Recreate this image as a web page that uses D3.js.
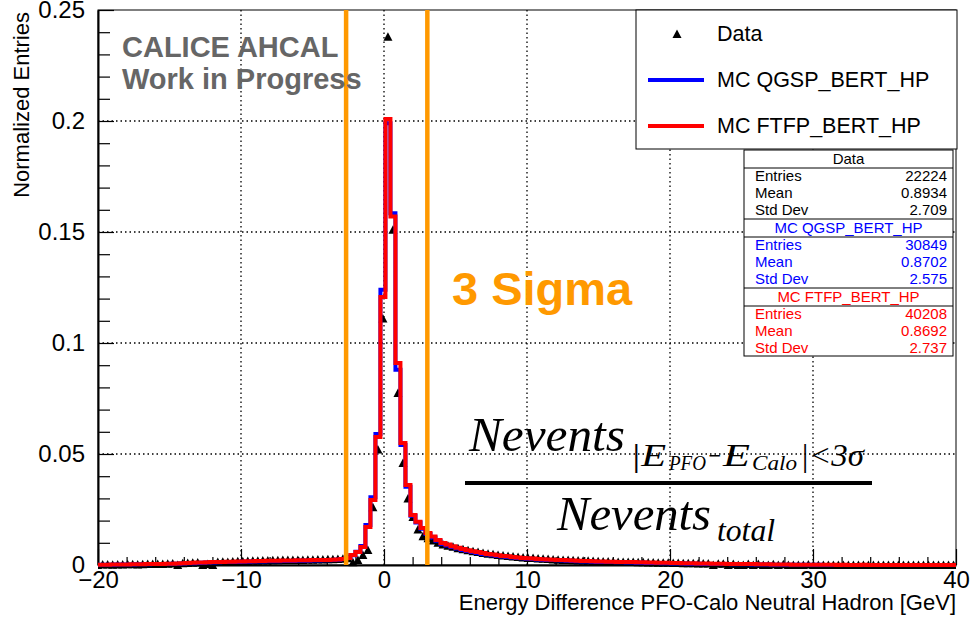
<!DOCTYPE html>
<html>
<head>
<meta charset="utf-8">
<script src="https://cdn.jsdelivr.net/npm/d3@7"></script>
<style>
body { margin: 0; background: #fff; }
svg text { font-family: "Liberation Sans", Arial, Helvetica, sans-serif; }
svg text.latex { font-family: "Liberation Serif", "Times New Roman", serif; font-style: italic; }
</style>
</head>
<body>
<svg id="chart" width="974" height="617"></svg>
<script>
// histogram binning (0.35 GeV bins), first bin edge shown on the axis
var firstEdge = -20.2
var binWidth = 0.35

// normalized entries per bin, left to right
var dataVals = [
  0, 0.0002, 0.0002, 0.0001, 0.0002, 0.0002, 0.0003, 0.0003, 0.0002, 0.0003,
  0.0004, 0.0004, 0.0005, 0.0005, 0.0006, 0.0007, 0, 0.0008, 0.0009, 0.0010,
  0.0011, 0, 0.0004, 0, 0.0014, 0.0015, 0.0014, 0.0016, 0.0017, 0.0017,
  0.0018, 0.0019, 0.0019, 0.0020, 0.0020, 0.0021, 0.0021, 0.0022, 0.0022, 0.0022,
  0.0023, 0.0023, 0.0024, 0.0024, 0.0025, 0.0025, 0.0026, 0.0026, 0.0027, 0.0028,
  0.0030, 0.0012, 0.0022, 0.0045, 0.0068, 0.0260, 0.0520, 0.1110, 0.2380, 0.1510,
  0.0775, 0.0460, 0.0300, 0.0216, 0.0160, 0.0130, 0.0120, 0.0110, 0.0100, 0.0092,
  0.0087, 0.0082, 0.0076, 0.0071, 0.0066, 0.0062, 0.0058, 0.0054, 0.0051, 0.0048,
  0.0045, 0.0043, 0.0040, 0.0038, 0.0036, 0.0034, 0.0032, 0.0031, 0.0029, 0.0028,
  0.0027, 0.0025, 0.0024, 0.0023, 0.0022, 0.0021, 0.0020, 0.0019, 0.0019, 0.0018,
  0.0017, 0.0016, 0.0016, 0.0015, 0.0014, 0.0014, 0.0013, 0.0013, 0.0012, 0.0012,
  0.0011, 0.0011, 0.0010, 0.0010, 0.0010, 0.0009, 0.0009, 0.0008, 0.0008, 0.0008,
  0.0007, 0.0007, 0.0007, 0, 0.0006, 0.0006, 0, 0.0005, 0, 0,
  0.0005, 0, 0.0004, 0, 0, 0.0003, 0, 0.0003, 0, 0,
  0, 0, 0.0002, 0, 0, 0, 0, 0, 0, 0,
  0, 0, 0, 0, 0, 0, 0, 0, 0, 0,
  0, 0, 0, 0, 0, 0, 0, 0, 0, 0,
  0, 0
]

var qgspVals = [
  0.0001, 0.0001, 0.0001, 0.0001, 0.0002, 0.0002, 0.0002, 0.0002, 0.0003, 0.0003,
  0.0003, 0.0004, 0.0004, 0.0005, 0.0005, 0.0006, 0.0006, 0.0007, 0.0008, 0.0008,
  0.0009, 0.0010, 0.0011, 0.0011, 0.0012, 0.0013, 0.0013, 0.0014, 0.0014, 0.0015,
  0.0015, 0.0016, 0.0016, 0.0016, 0.0017, 0.0017, 0.0017, 0.0018, 0.0018, 0.0018,
  0.0019, 0.0019, 0.0019, 0.0020, 0.0020, 0.0021, 0.0021, 0.0022, 0.0024, 0.0027,
  0.0031, 0.0044, 0.0060, 0.0086, 0.0180, 0.0305, 0.0590, 0.1240, 0.1990, 0.1585,
  0.0880, 0.0540, 0.0352, 0.0222, 0.0192, 0.0163, 0.0140, 0.0124, 0.0109, 0.0095,
  0.0088, 0.0081, 0.0074, 0.0068, 0.0063, 0.0058, 0.0054, 0.0050, 0.0047, 0.0044,
  0.0041, 0.0038, 0.0036, 0.0034, 0.0032, 0.0030, 0.0028, 0.0027, 0.0025, 0.0024,
  0.0023, 0.0022, 0.0021, 0.0020, 0.0019, 0.0018, 0.0017, 0.0016, 0.0016, 0.0015,
  0.0014, 0.0014, 0.0013, 0.0013, 0.0012, 0.0012, 0.0011, 0.0011, 0.0010, 0.0010,
  0.0009, 0.0009, 0.0009, 0.0008, 0.0008, 0.0007, 0.0007, 0.0007, 0.0006, 0.0006,
  0.0006, 0.0005, 0.0005, 0.0005, 0.0004, 0.0004, 0.0004, 0.0003, 0.0003, 0.0003,
  0.0003, 0.0002, 0.0002, 0.0002, 0.0002, 0.0001, 0.0001, 0.0001, 0.0001, 0.0001,
  0.0001, 0.0001, 0.0001, 0, 0.0001, 0, 0, 0, 0, 0,
  0, 0, 0, 0, 0, 0, 0, 0, 0, 0,
  0, 0, 0, 0, 0, 0, 0, 0, 0, 0,
  0, 0
]

var ftfpVals = [
  0.0001, 0.0001, 0.0001, 0.0002, 0.0002, 0.0002, 0.0002, 0.0003, 0.0003, 0.0003,
  0.0004, 0.0004, 0.0005, 0.0005, 0.0006, 0.0006, 0.0007, 0.0008, 0.0009, 0.0010,
  0.0011, 0.0011, 0.0012, 0.0013, 0.0013, 0.0014, 0.0015, 0.0015, 0.0016, 0.0016,
  0.0017, 0.0017, 0.0018, 0.0018, 0.0019, 0.0019, 0.0019, 0.0020, 0.0020, 0.0020,
  0.0021, 0.0021, 0.0021, 0.0022, 0.0022, 0.0023, 0.0023, 0.0024, 0.0025, 0.0027,
  0.0032, 0.0045, 0.0059, 0.0081, 0.0171, 0.0293, 0.0577, 0.1207, 0.2009, 0.1570,
  0.0910, 0.0550, 0.0360, 0.0225, 0.0195, 0.0167, 0.0144, 0.0128, 0.0113, 0.0099,
  0.0092, 0.0085, 0.0078, 0.0072, 0.0067, 0.0062, 0.0058, 0.0054, 0.0050, 0.0047,
  0.0044, 0.0041, 0.0039, 0.0036, 0.0034, 0.0032, 0.0030, 0.0029, 0.0027, 0.0026,
  0.0025, 0.0024, 0.0023, 0.0022, 0.0021, 0.0020, 0.0019, 0.0018, 0.0018, 0.0017,
  0.0016, 0.0016, 0.0015, 0.0015, 0.0014, 0.0014, 0.0013, 0.0013, 0.0012, 0.0012,
  0.0011, 0.0011, 0.0010, 0.0010, 0.0010, 0.0009, 0.0009, 0.0008, 0.0008, 0.0008,
  0.0007, 0.0007, 0.0007, 0.0006, 0.0006, 0.0006, 0.0005, 0.0005, 0.0005, 0.0004,
  0.0004, 0.0004, 0.0003, 0.0003, 0.0003, 0.0002, 0.0002, 0.0002, 0.0002, 0.0001,
  0.0001, 0.0001, 0.0001, 0.0001, 0.0001, 0.0001, 0.0001, 0.0001, 0, 0.0001,
  0, 0, 0, 0.0001, 0, 0, 0, 0, 0, 0,
  0, 0, 0, 0, 0, 0, 0, 0, 0, 0,
  0, 0
]

var xTicks = [-20, -10, 0, 10, 20, 30, 40]
var xTickLabels = ["\u221220", "\u221210", "0", "10", "20", "30", "40"]
var xMinorTicks = [-18, -16, -14, -12, -8, -6, -4, -2, 2, 4, 6, 8, 12, 14, 16, 18, 22, 24, 26, 28, 32, 34, 36, 38]
var yTicks = [0, 0.05, 0.1, 0.15, 0.2, 0.25]
var yTickLabels = ["0", "0.05", "0.1", "0.15", "0.2", "0.25"]
var yMinorTicks = [0.01, 0.02, 0.03, 0.04, 0.06, 0.07, 0.08, 0.09, 0.11, 0.12, 0.13, 0.14, 0.16, 0.17, 0.18, 0.19, 0.21, 0.22, 0.23, 0.24]

// the +-3 sigma window around the peak
var sigmaCuts = [-2.65, 3.03]

var seriesNames = ["Data", "MC QGSP_BERT_HP", "MC FTFP_BERT_HP"]
var seriesColors = ["#000000", "#0000ff", "#ff0000"]
var statLabels = ["Entries", "Mean", "Std Dev"]
var statEntries = ["22224", "30849", "40208"]
var statMeans = ["0.8934", "0.8702", "0.8692"]
var statStdDevs = ["2.709", "2.575", "2.737"]

var W = 974, H = 617
var frame = { left: 98, right: 956, top: 10, bottom: 565 }

var svg = d3.select("#chart")

var x = d3.scaleLinear().domain([-20, 40]).range([frame.left, frame.right])
var y = d3.scaleLinear().domain([0, 0.25]).range([frame.bottom, frame.top])

function binLow(i) { return firstEdge + i * binWidth }

svg.append("defs").append("clipPath").attr("id", "plotClip")
  .append("rect")
  .attr("x", frame.left).attr("y", 0)
  .attr("width", frame.right - frame.left).attr("height", H)

// dotted grid
var grid = svg.append("g").attr("stroke", "#000").attr("stroke-width", 1.3)
  .attr("stroke-dasharray", "1.5,3")
grid.selectAll("line.gx").data([-10, 0, 10, 20, 30]).enter().append("line")
  .attr("x1", function (d) { return x(d) }).attr("x2", function (d) { return x(d) })
  .attr("y1", frame.top).attr("y2", frame.bottom)
grid.selectAll("line.gy").data([0.05, 0.1, 0.15, 0.2]).enter().append("line")
  .attr("x1", frame.left).attr("x2", frame.right)
  .attr("y1", function (d) { return y(d) }).attr("y2", function (d) { return y(d) })

// frame
svg.append("rect")
  .attr("x", frame.left).attr("y", frame.top)
  .attr("width", frame.right - frame.left).attr("height", frame.bottom - frame.top)
  .attr("fill", "none").attr("stroke", "#000").attr("stroke-width", 1)

// axes (ROOT style, ticks pointing inwards)
svg.append("g").attr("transform", "translate(0," + frame.bottom + ")")
  .call(d3.axisBottom(x).tickValues(xTicks).tickSize(-16).tickSizeOuter(0).tickPadding(6)
    .tickFormat(function (d, i) { return xTickLabels[i] }))
svg.append("g").attr("transform", "translate(0," + frame.bottom + ")")
  .call(d3.axisBottom(x).tickValues(xMinorTicks).tickSize(-8).tickSizeOuter(0).tickFormat(""))
  .select(".domain").remove()
svg.append("g").attr("transform", "translate(" + frame.left + ",0)")
  .call(d3.axisLeft(y).tickValues(yTicks).tickSize(-16).tickSizeOuter(0).tickPadding(13)
    .tickFormat(function (d, i) { return yTickLabels[i] }))
svg.append("g").attr("transform", "translate(" + frame.left + ",0)")
  .call(d3.axisLeft(y).tickValues(yMinorTicks).tickSize(-12).tickSizeOuter(0).tickFormat(""))
  .select(".domain").remove()
svg.selectAll(".domain").attr("stroke-width", 2)
svg.selectAll(".tick line").attr("stroke-width", 1.2)
svg.selectAll(".tick text").attr("font-size", 24).attr("fill", "#000")
  .attr("font-family", null)

// axis titles
svg.append("text").attr("x", frame.right).attr("y", 610).attr("text-anchor", "end")
  .attr("font-size", 22).text("Energy Difference PFO-Calo Neutral Hadron [GeV]")
svg.append("text").attr("transform", "translate(29,12) rotate(-90)").attr("text-anchor", "end")
  .attr("font-size", 22).text("Normalized Entries")

// histograms
var plot = svg.append("g").attr("clip-path", "url(#plotClip)")

function trianglePath(cx, cy) {
  return "M" + (cx - 4.5) + "," + (cy + 4) + "L" + (cx + 4.5) + "," + (cy + 4) + "L" + cx + "," + (cy - 4.5) + "Z"
}

plot.selectAll("path.data").data(dataVals).enter().append("path")
  .attr("class", "data")
  .attr("d", function (d, i) { return trianglePath(x(binLow(i) + binWidth / 2), y(d)) })
  .attr("fill", "#000")

function stepPath(vals) {
  var pts = []
  vals.forEach(function (v, i) {
    pts.push([binLow(i), v])
    pts.push([binLow(i) + binWidth, v])
  })
  return d3.line().x(function (p) { return x(p[0]) }).y(function (p) { return y(p[1]) })(pts)
}

plot.append("path").attr("d", stepPath(qgspVals))
  .attr("fill", "none").attr("stroke", seriesColors[1]).attr("stroke-width", 4)
plot.append("path").attr("d", stepPath(ftfpVals))
  .attr("fill", "none").attr("stroke", seriesColors[2]).attr("stroke-width", 4)

// 3 sigma window
svg.selectAll("line.cut").data(sigmaCuts).enter().append("line")
  .attr("x1", function (d) { return x(d) }).attr("x2", function (d) { return x(d) })
  .attr("y1", frame.top).attr("y2", frame.bottom)
  .attr("stroke", "#ff9900").attr("stroke-width", 4.5)

svg.append("text").attr("x", 452).attr("y", 305).attr("font-size", 47).attr("font-weight", "bold")
  .attr("fill", "#ff9900").text("3 Sigma")

// group label
svg.append("text").attr("x", 122).attr("y", 57).attr("font-size", 29).attr("font-weight", "bold")
  .attr("fill", "#666").text("CALICE AHCAL")
svg.append("text").attr("x", 122).attr("y", 89).attr("font-size", 29).attr("font-weight", "bold")
  .attr("fill", "#666").text("Work in Progress")

// ratio formula, placed piece by piece like TLatex does: [x, baseline, size, width, text]
function latex(parts) {
  parts.forEach(function (p) {
    svg.append("text").attr("class", "latex")
      .attr("x", p[0]).attr("y", p[1]).attr("font-size", p[2])
      .attr("textLength", p[3]).attr("lengthAdjust", "spacingAndGlyphs")
      .text(p[4])
  })
}
latex([
  [469, 451, 48, 156, "Nevents"],
  [630, 466, 31, 36, "|E"],
  [669, 470, 21, 37, "PFO"],
  [707, 466, 31, 15, "\u2212"],
  [723, 466, 31, 27, "E"],
  [752, 470, 21, 45, "Calo"],
  [800, 466, 31, 64, "|<3\u03c3"],
  [557, 530, 48, 154, "Nevents"],
  [717, 541, 31, 58, "total"]
])
svg.append("line").attr("x1", 465).attr("x2", 872).attr("y1", 483).attr("y2", 483)
  .attr("stroke", "#000").attr("stroke-width", 4)

// legend
var leg = svg.append("g")
leg.append("rect").attr("x", 636).attr("y", 10).attr("width", 321).attr("height", 139)
  .attr("fill", "#fff").attr("stroke", "#000").attr("stroke-width", 1)
var legY = [34, 80, 126]
leg.append("path").attr("d", trianglePath(677, legY[0])).attr("fill", "#000")
leg.selectAll("line.lg").data([1, 2]).enter().append("line")
  .attr("x1", 648).attr("x2", 704)
  .attr("y1", function (d) { return legY[d] }).attr("y2", function (d) { return legY[d] })
  .attr("stroke", function (d) { return seriesColors[d] }).attr("stroke-width", 4)
leg.selectAll("text").data(seriesNames).enter().append("text")
  .attr("x", 717).attr("y", function (d, i) { return legY[i] + 7 })
  .attr("font-size", 21.5).text(function (d) { return d })

// statistics boxes
var stats = svg.append("g")
var boxX = 744, boxW = 209
var boxTops = [150, 219, 288]
var headH = 18, rowH = 17
stats.append("rect").attr("x", boxX).attr("y", 150).attr("width", boxW).attr("height", 206)
  .attr("fill", "#fff").attr("stroke", "#000")
seriesNames.forEach(function (name, k) {
  var top = boxTops[k]
  var col = seriesColors[k]
  if (k > 0) stats.append("line").attr("x1", boxX).attr("x2", boxX + boxW)
    .attr("y1", top).attr("y2", top).attr("stroke", "#000")
  stats.append("line").attr("x1", boxX).attr("x2", boxX + boxW)
    .attr("y1", top + headH).attr("y2", top + headH).attr("stroke", "#000")
  stats.append("text").attr("x", boxX + boxW / 2).attr("y", top + 14).attr("text-anchor", "middle")
    .attr("font-size", 15).attr("fill", col).text(name)
  var vals = [statEntries[k], statMeans[k], statStdDevs[k]]
  statLabels.forEach(function (lab, j) {
    var by = top + headH + 13 + j * rowH
    stats.append("text").attr("x", boxX + 11).attr("y", by).attr("font-size", 15)
      .attr("fill", col).text(lab)
    stats.append("text").attr("x", boxX + boxW - 6).attr("y", by).attr("font-size", 15)
      .attr("text-anchor", "end").attr("fill", col).text(vals[j])
  })
})
</script>
</body>
</html>
